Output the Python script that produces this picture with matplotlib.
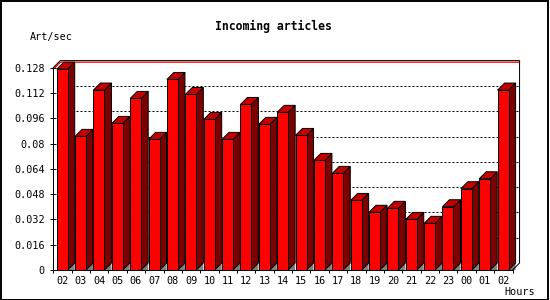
import matplotlib
matplotlib.use('Agg')
import matplotlib.pyplot as plt
from matplotlib.patches import Polygon, Rectangle

# data
hours = ['02', '03', '04', '05', '06', '07', '08', '09', '10', '11', '12', '13',
         '14', '15', '16', '17', '18', '19', '20', '21', '22', '23', '00', '01', '02']
rates = [0.1270, 0.0845, 0.1138, 0.0927, 0.1085, 0.0826, 0.1205, 0.1110, 0.0952,
         0.0826, 0.1047, 0.0921, 0.0997, 0.0851, 0.0693, 0.0611, 0.0440, 0.0365,
         0.0390, 0.0320, 0.0295, 0.0400, 0.0514, 0.0577, 0.1138]
y_ticks = [0, 0.016, 0.032, 0.048, 0.064, 0.08, 0.096, 0.112, 0.128]
y_labels = ['0', '0.016', '0.032', '0.048', '0.064', '0.08', '0.096', '0.112', '0.128']

W, H = 550, 300
n = len(hours)
slot_px = 18.37          # pixels per category
unit_px = 25.3 / 0.016   # pixels per unit of value
depth_px = 7.0           # 3d offset
ytop = 0.128

dx = depth_px / slot_px
dy = depth_px / unit_px
xmax = n + dx
ymax = ytop + dy

left_px, base_px = 53.3, 270
ax_w = xmax * slot_px
ax_h = ymax * unit_px

plt.rcParams['font.family'] = ['DejaVu Sans Mono']
fig = plt.figure(figsize=(W / 100, H / 100), dpi=100)
ax = fig.add_axes([left_px / W, (H - base_px) / H, ax_w / W, ax_h / H])
ax.set_xlim(0, xmax)
ax.set_ylim(0, ymax)

lw = 0.72
front_c, top_c, side_c, shadow_c = '#ff0000', '#c40000', '#7c0000', '#808080'

# dotted grid on the back wall
for t in y_ticks[1:-1]:
    ax.plot([dx, xmax], [t + dy, t + dy], color='black', lw=lw,
            linestyle=(0, (2, 2)), zorder=1)

# max line on the back wall
vmax = max(rates)
ax.plot([0, dx, xmax], [vmax, vmax + dy, vmax + dy], color='red', lw=lw * 1.3,
        zorder=1, clip_on=False)

# 3d bars
bw = 0.6
off = 0.185
for i, v in enumerate(rates):
    x0 = i + off
    x1 = x0 + bw
    ax.add_patch(Polygon([(x1, 0), (x1 + dx, dy), (x1 + dx, 0)], closed=True,
                         facecolor=shadow_c, edgecolor='none', zorder=2))
    ax.add_patch(Polygon([(x1, 0), (x1, v), (x1 + dx, v + dy), (x1 + dx, dy)],
                         closed=True, facecolor=side_c, edgecolor='black', lw=lw,
                         zorder=3))
    ax.add_patch(Polygon([(x0, v), (x1, v), (x1 + dx, v + dy), (x0 + dx, v + dy)],
                         closed=True, facecolor=top_c, edgecolor='black', lw=lw,
                         zorder=3))
    ax.bar(x0, v, width=bw, align='edge', color=front_c, edgecolor='black',
           linewidth=lw, zorder=4)

# frame: front axes + back wall outline
ax.plot([0, dx, xmax, xmax, n], [ytop, ymax, ymax, dy, 0], color='black', lw=lw,
        zorder=5, clip_on=False)
for s in ['top', 'right']:
    ax.spines[s].set_visible(False)
ax.spines['left'].set_bounds(0, ytop)
ax.spines['bottom'].set_bounds(0, n)
for s in ['left', 'bottom']:
    ax.spines[s].set_linewidth(lw)
    ax.spines[s].set_zorder(5)

ax.set_yticks(y_ticks)
ax.set_yticklabels(y_labels)
ax.tick_params(axis='y', direction='inout', length=5, width=lw, pad=3.5,
               labelsize=7.3)
ax.set_xticks(range(n + 1))
ax.set_xticklabels([])
ax.set_xticks([i + 0.5 for i in range(n)], minor=True)
ax.set_xticklabels(hours, minor=True)
ax.tick_params(axis='x', which='major', direction='out', length=2.5, width=lw)
ax.tick_params(axis='x', which='minor', length=0, pad=4, labelsize=7.3)

fig.text(273.7 / W, 1 - 26.7 / H, 'Incoming articles', ha='center', va='center',
         fontsize=8.3, fontweight='bold')
fig.text(30 / W, 1 - 36.7 / H, 'Art/sec', ha='left', va='center', fontsize=7.3)
fig.text(504 / W, 1 - 292.3 / H, 'Hours', ha='left', va='center', fontsize=7.3)

# outer border
fig.patches.append(Rectangle((0.5 / W, 0.5 / H), 547.2 / W, 298.8 / H,
                             transform=fig.transFigure, fill=False,
                             edgecolor='black', lw=1.4))

fig.savefig('out.png', dpi=100)
